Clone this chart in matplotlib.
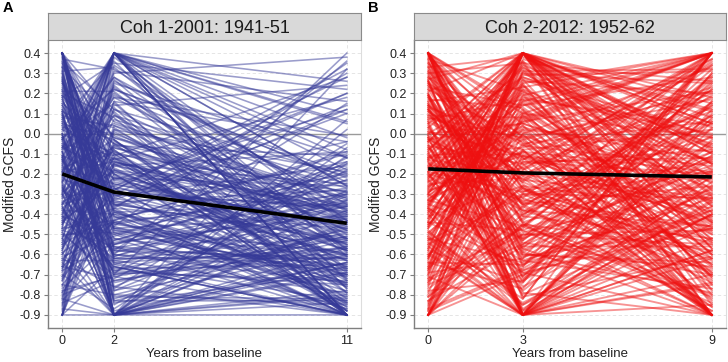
import matplotlib
matplotlib.use("Agg")
import matplotlib.pyplot as plt

plt.rcParams['font.family'] = ['Liberation Sans', 'DejaVu Sans']

# ---- Panel A data (Coh 1-2001: 1941-51), times 0, 2, 11 ----
times_A = [0, 2, 11]
start_A = [
    0.40, -0.12, 0.27, -0.55, 0.08, -0.31, -0.78, 0.15, -0.04, -0.43,
    0.33, -0.66, -0.19, 0.40, -0.90, 0.02, -0.27, 0.21, -0.48, -0.09,
    -0.71, 0.36, -0.15, -0.37, 0.11, -0.59, 0.40, -0.24, -0.83, 0.05,
    -0.02, -0.52, 0.30, -0.35, -0.13, 0.18, -0.64, -0.06, 0.40, -0.90,
    -0.29, 0.24, -0.46, 0.07, -0.75, -0.18, 0.34, -0.40, -0.01, -0.57,
    0.13, -0.22, -0.87, 0.38, -0.33, -0.10, 0.00, -0.62, 0.26, -0.45,
    -0.16, 0.40, -0.69, -0.26, 0.09, -0.50, -0.07, 0.31, -0.80, -0.38,
    0.19, -0.03, -0.58, 0.40, -0.21, -0.90, 0.04, -0.34, 0.23, -0.47,
    -0.11, 0.35, -0.73, -0.28, 0.12, -0.53, 0.40, -0.17, -0.41, 0.01,
    -0.63, 0.28, -0.08, -0.36, 0.16, -0.85, -0.23, 0.06, -0.49, 0.39,
    -0.14, -0.68, 0.22, -0.30, 0.40, -0.05, -0.56, 0.10, -0.90, -0.20,
    0.32, -0.42, -0.09, -0.76, 0.17, -0.25, 0.03, -0.61, 0.40, -0.32,
    -0.13, 0.25, -0.51, -0.02, -0.82, 0.14, -0.39, 0.37, -0.22, -0.66,
    0.05, -0.44, 0.40, -0.16, -0.90, 0.20, -0.28, -0.54, 0.11, -0.07,
    -0.72, 0.29, -0.35, -0.12, 0.40, -0.47, 0.00, -0.60, 0.19, -0.24,
    -0.03, -0.79, 0.33, -0.19, -0.41, 0.08, -0.67, 0.40, -0.30, -0.11,
    0.22, -0.58, -0.03, 0.40, -0.36, -0.81, 0.09, -0.19, -0.47, 0.30,
    -0.66, -0.11, 0.17, -0.90, -0.27, 0.35, -0.42, -0.06, -0.73, 0.04,
    -0.31, 0.40, -0.54, -0.15, 0.26, -0.88, -0.38, 0.12, -0.21, -0.62,
    0.38, -0.01, -0.49, -0.77, 0.19, -0.24, 0.40, -0.57, -0.09, -0.34,
    0.07, -0.70, -0.17, 0.28, -0.45, -0.90, 0.14, -0.29, -0.60, 0.00,
    -0.13, 0.33, -0.84, -0.40, 0.21, -0.52, -0.05, 0.40, -0.68, -0.23,
    0.10, -0.32, -0.75, 0.36, -0.18, -0.44, 0.02, -0.63, 0.25, -0.90,
    -0.08, -0.50, 0.40, -0.26, -0.79, 0.15, -0.37, -0.12, 0.31, -0.55,
    -0.20, 0.06, -0.65, 0.40, -0.43, -0.02, -0.86, 0.18, -0.30, -0.71,
    0.27, -0.14, -0.48, 0.40, -0.59, -0.07, 0.11, -0.35, -0.82, -0.25]
mid_A = [
    -0.35, 0.40, -0.90, -0.18, -0.52, 0.12, -0.71, -0.05, -0.28, -0.62,
    0.06, -0.44, 0.40, -0.90, -0.22, -0.10, -0.58, 0.21, -0.37, -0.83,
    -0.15, -0.48, 0.30, -0.66, -0.02, -0.90, -0.31, 0.40, -0.55, -0.20,
    -0.74, 0.16, -0.39, -0.08, -0.61, 0.35, -0.90, -0.25, -0.47, 0.02,
    -0.12, -0.57, 0.40, -0.33, -0.80, -0.03, -0.45, 0.24, -0.68, -0.16,
    -0.41, 0.09, -0.90, -0.27, -0.53, 0.40, -0.14, -0.76, -0.36, -0.06,
    0.19, -0.63, -0.24, -0.90, 0.03, -0.49, -0.19, 0.33, -0.70, -0.40,
    -0.09, -0.85, 0.27, -0.32, -0.56, 0.40, -0.13, -0.67, -0.01, -0.43,
    -0.90, -0.21, 0.13, -0.59, -0.38, 0.40, -0.78, -0.07, -0.50, 0.22,
    -0.29, -0.64, 0.05, -0.90, -0.17, 0.38, -0.46, -0.11, -0.73, -0.34,
    0.40, -0.54, -0.23, -0.88, 0.10, -0.42, -0.04, -0.65, -0.30, 0.18,
    -0.60, -0.15, -0.90, 0.26, -0.37, -0.69, 0.00, -0.51, -0.10, -0.26,
    -0.82, -0.08, -0.44, 0.15, -0.90, -0.20, -0.58, 0.32, -0.35, -0.72,
    -0.03, 0.40, -0.62, -0.30, -0.90, 0.08, -0.47, -0.12, -0.77, 0.23,
    -0.39, -0.90, 0.11, -0.55, -0.18, 0.40, -0.70, -0.27, -0.05, -0.60,
    0.28, -0.43, -0.90, -0.14, -0.66, 0.04, -0.32, -0.84, 0.40, -0.22,
    -0.62, -0.10, 0.40, -0.45, -0.90, -0.20, -0.71, 0.14, -0.33, -0.55,
    -0.05, -0.90, -0.38, 0.25, -0.64, -0.16, 0.40, -0.49, -0.27, -0.80,
    0.09, -0.58, -0.12, -0.90, -0.35, 0.31, -0.68, -0.23, 0.40, -0.44,
    -0.76, -0.30, 0.02, -0.53, -0.90, 0.18, -0.41, -0.07, -0.60, -0.19,
    0.36, -0.87, -0.25, -0.48, 0.07, -0.66, -0.34, 0.40, -0.14, -0.90,
    -0.52, -0.02, -0.73, 0.22, -0.39, -0.90, -0.11, -0.57, 0.40, -0.29,
    -0.83, -0.06, -0.46, 0.12, -0.90, -0.22, 0.40, -0.63, -0.36, -0.15,
    0.28, -0.70, -0.31, -0.90, 0.04, -0.50, -0.18, 0.40, -0.78, -0.40,
    -0.09, -0.61, 0.16, -0.90, -0.26, -0.47, 0.34, -0.13, -0.69, -0.37,
    -0.90, 0.20, -0.56, -0.03, -0.43, 0.40, -0.81, -0.28, 0.01, -0.65]
end_A = [
    -0.52, 0.05, -0.80, -0.35, -0.66, -0.21, -0.90, -0.44, 0.28, -0.60,
    -0.38, -0.75, -0.12, -0.90, -0.55, -0.29, 0.15, -0.68, -0.47, -0.83,
    -0.25, -0.62, 0.38, -0.90, -0.41, -0.57, -0.16, -0.73, -0.33, -0.86,
    -0.49, -0.04, -0.70, -0.90, -0.30, 0.22, -0.64, -0.45, -0.78, -0.19,
    -0.58, -0.36, -0.90, 0.10, -0.53, -0.82, -0.27, -0.67, -0.42, -0.09,
    -0.74, -0.50, 0.32, -0.88, -0.23, -0.61, -0.39, -0.90, -0.14, -0.56,
    -0.31, -0.79, -0.46, 0.02, -0.69, -0.90, -0.37, -0.59, 0.40, -0.84,
    -0.43, -0.18, -0.72, -0.54, -0.90, -0.26, 0.18, -0.65, -0.48, -0.81,
    -0.07, -0.63, -0.90, -0.34, -0.76, 0.26, -0.51, -0.40, -0.87, -0.22,
    -0.60, -0.90, -0.32, -0.11, -0.71, -0.45, 0.35, -0.85, -0.56, -0.28,
    -0.77, -0.40, 0.12, -0.64, -0.90, -0.20, -0.52, -0.83, -0.36, -0.01,
    -0.68, -0.55, -0.60, -0.24, 0.30, -0.73, -0.43, -0.15, -0.88, -0.61,
    -0.47, -0.90, -0.30, -0.79, 0.07, -0.58, -0.67, -0.38, -0.90, -0.12,
    -0.84, -0.26, -0.62, 0.20, -0.78, -0.90, -0.41, -0.75, -0.05, -0.57,
    -0.35, -0.70, -0.90, -0.17, -0.63, 0.10, -0.48, -0.86, -0.29, -0.74,
    -0.53, -0.10, -0.81, -0.44, -0.90, -0.33, 0.14, -0.69, -0.58, -0.39,
    -0.41, -0.72, -0.18, -0.60, -0.33, -0.88, -0.51, 0.24, -0.67, -0.29,
    -0.79, -0.46, -0.90, -0.12, -0.57, -0.36, 0.06, -0.70, -0.44, -0.85,
    -0.25, -0.62, -0.90, -0.38, -0.53, 0.16, -0.75, -0.47, -0.08, -0.68,
    -0.30, -0.83, -0.55, -0.21, -0.64, -0.43, -0.90, -0.34, 0.36, -0.58,
    -0.77, -0.15, -0.49, -0.71, -0.27, -0.90, -0.60, -0.02, -0.40, -0.66,
    -0.87, -0.32, -0.52, -0.20, -0.74, -0.45, 0.28, -0.63, -0.90, -0.37,
    -0.56, -0.11, -0.80, -0.42, -0.69, -0.26, -0.90, -0.50, 0.12, -0.73,
    -0.35, -0.61, -0.04, -0.84, -0.48, -0.19, -0.66, -0.90, -0.31, -0.54,
    -0.70, -0.23, -0.88, -0.44, 0.20, -0.59, -0.39, -0.76, -0.14, -0.90,
    -0.28, -0.52, -0.65, -0.90, -0.09, -0.43, -0.82, 0.32, -0.57, -0.36]
mean_A = [-0.20, -0.29, -0.445]

# ---- Panel B data (Coh 2-2012: 1952-62), times 0, 3, 9 ----
times_B = [0, 3, 9]
start_B = [
    0.40, -0.22, 0.15, -0.61, -0.05, 0.31, -0.84, -0.33, 0.08, -0.47,
    -0.14, 0.26, -0.70, -0.02, 0.40, -0.38, -0.90, 0.19, -0.27, -0.55,
    0.03, -0.44, 0.35, -0.10, -0.77, 0.12, -0.31, 0.40, -0.64, -0.18,
    -0.51, 0.22, -0.08, -0.90, 0.29, -0.36, -0.01, -0.68, 0.14, -0.25,
    0.37, -0.58, -0.12, 0.05, -0.81, -0.29, 0.24, -0.42, 0.40, -0.06,
    -0.74, 0.17, -0.35, -0.19, 0.33, -0.53, 0.00, -0.88, -0.23, 0.10,
    -0.40, 0.40, -0.65, -0.04, 0.21, -0.30, -0.90, 0.07, -0.48, 0.28,
    -0.16, -0.72, 0.13, -0.37, 0.40, -0.09, -0.57, 0.25, -0.83, -0.21,
    0.02, -0.46, 0.34, -0.26, -0.67, 0.18, -0.13, -0.90, 0.39, -0.34,
    -0.59, 0.09, -0.20, 0.27, -0.78, -0.03, -0.43, 0.40, -0.11, -0.63,
    0.20, -0.32, -0.86, 0.06, -0.50, 0.36, -0.17, -0.69, 0.11, -0.39,
    -0.07, 0.40, -0.56, -0.28, 0.16, -0.90, -0.45, 0.30, -0.15, -0.75,
    0.23, -0.41, -0.02, -0.62, 0.40, -0.24, 0.04, -0.80, -0.36, 0.14,
    -0.52, -0.13, 0.32, -0.71, -0.30, 0.08, -0.90, -0.19, 0.26, -0.44,
    -0.08, -0.66, 0.40, -0.37, 0.01, -0.54, -0.22, 0.19, -0.87, -0.12,
    0.12, -0.49, -0.27, 0.38, -0.73, -0.04, -0.60, 0.40, -0.33, -0.90,
    -0.33, 0.18, -0.62, 0.40, -0.09, -0.81, 0.27, -0.45, 0.01, -0.24,
    0.35, -0.70, -0.14, 0.09, -0.53, -0.90, 0.22, -0.38, -0.01, 0.40,
    -0.58, -0.19, 0.13, -0.76, -0.29, 0.31, -0.47, 0.05, -0.88, -0.11,
    0.40, -0.35, -0.64, 0.16, -0.04, -0.52, 0.25, -0.90, -0.21, 0.37,
    -0.42, -0.07, 0.11, -0.68, 0.40, -0.31, -0.16, 0.20, -0.79, -0.49,
    0.03, -0.26, 0.33, -0.60, -0.12, 0.40, -0.85, -0.37, 0.07, -0.55,
    -0.20, 0.28, -0.72, -0.02, 0.15, -0.44, -0.90, 0.39, -0.28, -0.10,
    -0.66, 0.24, -0.40, 0.00, -0.83, 0.40, -0.17, -0.51, 0.12, -0.34,
    0.30, -0.61, -0.06, -0.90, 0.19, -0.46, 0.40, -0.23, -0.74, 0.06,
    -0.13, -0.57, 0.26, -0.39, -0.87, 0.14, -0.30, 0.40, -0.67, -0.03]
mid_B = [
    -0.28, 0.40, -0.63, 0.07, -0.90, -0.15, 0.24, -0.46, -0.02, 0.33,
    -0.71, -0.20, 0.40, -0.37, 0.12, -0.85, -0.08, -0.54, 0.19, -0.31,
    0.40, -0.66, -0.12, 0.28, -0.42, -0.90, 0.03, -0.25, -0.77, 0.15,
    -0.05, -0.49, 0.36, -0.18, -0.60, 0.40, -0.34, 0.09, -0.90, -0.22,
    0.21, -0.74, -0.10, 0.40, -0.40, -0.01, -0.57, 0.30, -0.27, -0.88,
    -0.16, 0.13, -0.52, -0.90, 0.38, -0.30, 0.05, -0.68, 0.40, -0.44,
    -0.09, -0.79, 0.26, -0.35, 0.40, -0.60, -0.14, 0.17, -0.90, -0.23,
    0.34, -0.47, -0.04, -0.69, 0.10, -0.90, 0.40, -0.29, -0.56, 0.02,
    -0.38, 0.22, -0.82, -0.11, 0.40, -0.51, -0.19, 0.31, -0.65, -0.03,
    -0.90, 0.08, -0.33, 0.40, -0.73, -0.24, 0.18, -0.45, -0.07, 0.36,
    -0.58, -0.13, 0.40, -0.87, 0.00, -0.39, 0.27, -0.62, -0.21, 0.11,
    -0.46, 0.05, -0.90, -0.17, 0.23, -0.70, -0.06, 0.35, -0.32, -0.55,
    0.14, -0.26, -0.90, 0.40, -0.53, 0.04, -0.76, -0.36, 0.29, -0.12,
    -0.64, 0.20, -0.41, -0.90, 0.40, -0.08, -0.30, 0.06, -0.81, -0.48,
    0.32, -0.20, -0.59, 0.40, -0.11, -0.90, 0.16, -0.43, -0.67, 0.01,
    -0.35, -0.84, 0.25, -0.02, -0.50, 0.40, -0.27, -0.72, 0.10, -0.45,
    0.12, -0.57, 0.30, -0.21, 0.40, -0.45, -0.90, 0.06, -0.68, 0.22,
    -0.36, 0.40, -0.80, -0.13, 0.27, -0.50, -0.03, 0.40, -0.62, -0.90,
    0.17, -0.29, -0.74, 0.35, -0.09, -0.55, 0.02, -0.90, 0.40, -0.41,
    -0.18, 0.24, -0.65, -0.32, 0.40, -0.85, -0.06, 0.10, -0.48, -0.90,
    0.31, -0.59, -0.23, 0.40, -0.71, 0.04, -0.38, -0.90, 0.19, -0.14,
    -0.52, 0.40, -0.27, -0.90, 0.33, -0.44, 0.08, -0.63, -0.17, 0.40,
    -0.78, -0.01, 0.25, -0.90, -0.35, 0.40, -0.11, -0.56, 0.14, -0.69,
    0.40, -0.24, -0.90, 0.28, -0.46, -0.05, 0.40, -0.82, -0.30, 0.09,
    -0.61, 0.37, -0.15, 0.00, -0.90, 0.21, -0.40, -0.73, 0.40, -0.20,
    -0.53, 0.40, -0.88, -0.08, 0.16, -0.34, 0.40, -0.66, -0.26, 0.05]
end_B = [
    -0.55, 0.18, -0.32, 0.40, -0.75, -0.08, -0.44, 0.27, -0.90, -0.15,
    0.10, -0.62, -0.25, 0.34, -0.90, -0.40, 0.02, -0.70, 0.40, -0.19,
    -0.36, 0.40, -0.82, -0.05, 0.22, -0.58, -0.13, -0.90, 0.30, -0.47,
    0.06, -0.28, -0.90, 0.40, -0.66, -0.10, 0.15, -0.52, -0.34, -0.86,
    -0.21, 0.40, -0.45, -0.78, 0.09, -0.31, -0.90, 0.25, -0.60, -0.03,
    0.37, -0.50, -0.17, -0.62, 0.12, -0.69, 0.40, -0.38, -0.07, -0.80,
    -0.43, -0.90, 0.20, -0.26, -0.15, -0.64, -0.12, 0.04, -0.85, -0.33,
    -0.02, 0.29, -0.73, -0.47, 0.40, -0.45, -0.22, 0.13, -0.56, -0.09,
    -0.68, -0.14, 0.40, -0.39, -0.90, 0.07, -0.53, 0.32, -0.29, -0.77,
    0.16, -0.90, -0.46, 0.05, -0.20, -0.63, 0.00, -0.84, 0.23, -0.35,
    -0.11, 0.40, -0.57, -0.30, -0.90, 0.19, -0.72, -0.04, 0.35, -0.49,
    -0.81, -0.24, 0.08, -0.90, 0.40, -0.41, -0.16, 0.26, -0.67, -0.01,
    0.40, -0.37, -0.70, -0.06, 0.14, -0.59, -0.27, -0.88, 0.31, -0.44,
    -0.18, -0.71, 0.40, -0.52, 0.03, -0.90, -0.32, 0.21, -0.61, -0.09,
    -0.42, 0.11, -0.79, -0.10, -0.23, -0.40, -0.54, 0.28, -0.13, -0.65,
    0.05, -0.36, -0.90, 0.17, -0.48, 0.08, -0.74, -0.19, -0.02, -0.58,
    -0.48, 0.26, -0.15, -0.70, 0.05, -0.90, -0.33, 0.40, -0.22, -0.60,
    0.14, -0.85, -0.38, 0.34, -0.07, -0.55, 0.21, -0.28, 0.40, -0.74,
    -0.44, -0.02, 0.30, -0.90, -0.19, 0.09, -0.65, 0.40, -0.31, -0.52,
    0.18, -0.80, -0.12, 0.40, -0.41, -0.26, 0.37, -0.62, -0.90, 0.03,
    -0.36, -0.09, 0.40, -0.57, 0.24, -0.90, -0.46, 0.12, -0.71, -0.20,
    0.32, -0.53, -0.90, 0.06, -0.34, -0.16, 0.40, -0.77, 0.20, -0.43,
    -0.05, -0.66, 0.40, -0.24, -0.88, 0.15, -0.50, -0.11, 0.28, -0.90,
    -0.39, 0.36, -0.58, -0.01, 0.22, -0.83, -0.30, 0.40, -0.14, -0.69,
    -0.47, 0.11, -0.90, 0.33, -0.21, -0.60, 0.02, 0.40, -0.75, -0.32,
    0.25, -0.08, -0.40, -0.90, 0.40, -0.54, -0.18, 0.16, -0.86, -0.27]
mean_B = [-0.175, -0.195, -0.215]

titles = ["Coh 1-2001: 1941-51", "Coh 2-2012: 1952-62"]
panel_letters = ["A", "B"]
y_ticks = [0.4, 0.3, 0.2, 0.1, 0.0, -0.1, -0.2, -0.3, -0.4, -0.5, -0.6, -0.7, -0.8, -0.9]

W, H = 728, 362
fig = plt.figure(figsize=(W / 100, H / 100), dpi=100)


def fx(px):
    return px / W


def fy(py):
    return 1 - py / H


panels = [
    dict(times=times_A, s=start_A, m=mid_A, e=end_A, mean=mean_A,
         color="#363a98", alpha=0.5, lw=1.15, left=48, right=361, letter_x=3),
    dict(times=times_B, s=start_B, m=mid_B, e=end_B, mean=mean_B,
         color="#ee1010", alpha=0.45, lw=1.35, left=414, right=726, letter_x=368),
]
top_px, bot_px, strip_top = 40, 328, 13

for i, p in enumerate(panels):
    ax = fig.add_axes([fx(p['left']), fy(bot_px), fx(p['right'] - p['left']), (bot_px - top_px) / H])
    t = p['times']
    span = t[-1] - t[0]
    ax.set_xlim(t[0] - 0.05 * span, t[-1] + 0.05 * span)
    ax.set_ylim(-0.965, 0.465)
    for yv in y_ticks:
        ax.axhline(yv, color="#e0e0e0", lw=0.6, ls=(0, (4, 3)), zorder=0)
    for xv in t:
        ax.axvline(xv, color="#e0e0e0", lw=0.6, ls=(0, (4, 3)), zorder=0)
    ax.axhline(0.0, color="#9a9a9a", lw=1.0, zorder=0.5)
    for a, b, c in zip(p['s'], p['m'], p['e']):
        ax.plot(t, [a, b, c], color=p['color'], lw=p['lw'], alpha=p['alpha'], zorder=1)
    ax.plot(t, p['mean'], color="black", lw=2.6, zorder=3, solid_capstyle='butt')
    ax.set_xticks(t)
    ax.set_xticklabels([str(v) for v in t])
    ax.set_yticks(y_ticks)
    ax.set_yticklabels([f"{v:.1f}" for v in y_ticks])
    ax.tick_params(axis='both', colors="#7f7f7f", labelcolor="#222222", labelsize=9, length=3, width=0.8, pad=2)
    ax.spines['top'].set_visible(False)
    ax.spines['right'].set_color("#dddddd")
    ax.spines['right'].set_linewidth(0.8)
    for sp in ['left', 'bottom']:
        ax.spines[sp].set_color("#7f7f7f")
        ax.spines[sp].set_linewidth(1.0)
    ax.set_xlabel("Years from baseline", fontsize=9.5, color="#222222", labelpad=1)
    ax.set_ylabel("Modified GCFS", fontsize=10, color="#222222", labelpad=2)

    sax = fig.add_axes([fx(p['left']), fy(top_px), fx(p['right'] - p['left']), (top_px - strip_top) / H])
    sax.set_facecolor("#d9d9d9")
    sax.set_xticks([])
    sax.set_yticks([])
    for sp in sax.spines.values():
        sp.set_color("#8a8a8a")
        sp.set_linewidth(0.8)
    sax.text(0.5, 0.42, titles[i], ha='center', va='center', fontsize=13, color="#1a1a1a",
             transform=sax.transAxes)

    fig.text(fx(p['letter_x']), fy(8), panel_letters[i], fontsize=10.5,
             fontweight='bold', ha='left', va='center')

fig.savefig("out.png", dpi=100)
